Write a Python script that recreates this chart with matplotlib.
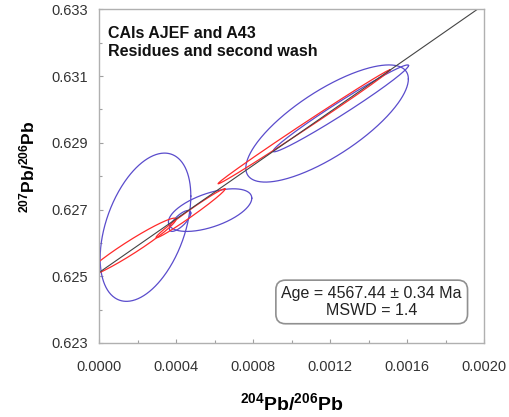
import numpy as np
import matplotlib
matplotlib.use("Agg")
import matplotlib.pyplot as plt
from matplotlib.ticker import FixedLocator, FormatStrFormatter

plt.rcParams['font.family'] = ['Liberation Sans', 'DejaVu Sans']
plt.rcParams['mathtext.fontset'] = 'custom'
plt.rcParams['mathtext.rm'] = 'Liberation Sans'
plt.rcParams['mathtext.bf'] = 'Liberation Sans:bold'

# error ellipses: centre, 2-sigma half extents, correlation
blue_cx = [0.0002394, 0.0004195, 0.0005755, 0.0011840, 0.0012553]
blue_cy = [0.626470, 0.626659, 0.626983, 0.629579, 0.630033]
blue_sx = [0.0002358, 0.0000556, 0.0002168, 0.0004227, 0.0003522]
blue_sy = [0.002222, 0.000314, 0.000639, 0.001756, 0.001302]
blue_rho = [0.42, 0.75, 0.56, 0.76, 0.985]

red_cx = [0.0001622, 0.0004740, 0.0010640]
red_cy = [0.625860, 0.626889, 0.629479]
red_sx = [0.0002366, 0.0001794, 0.0004470]
red_sy = [0.000883, 0.000734, 0.001707]
red_rho = [0.964, 0.987, 0.998]

# isochron
line_x = [0.0, 0.0020]
line_y = [0.62512, 0.63314]

x_major = [0.0, 0.0004, 0.0008, 0.0012, 0.0016, 0.0020]
x_minor = [0.0002, 0.0006, 0.0010, 0.0014, 0.0018]
y_major = [0.623, 0.625, 0.627, 0.629, 0.631, 0.633]
y_minor = [0.624, 0.626, 0.628, 0.630, 0.632]


def ellipse(cx, cy, sx, sy, rho):
    t = np.linspace(0, 2 * np.pi, 400)
    x = cx + sx * np.cos(t)
    y = cy + sy * (rho * np.cos(t) + np.sqrt(1 - rho ** 2) * np.sin(t))
    return x, y


fig = plt.figure(figsize=(5.1, 4.17), dpi=100)
ax = fig.add_axes([0.195, 0.1775, 0.754, 0.8])

for i in range(len(blue_cx)):
    ex, ey = ellipse(blue_cx[i], blue_cy[i], blue_sx[i], blue_sy[i], blue_rho[i])
    ax.plot(ex, ey, color='#5a4ccc', lw=0.9)

for i in range(len(red_cx)):
    ex, ey = ellipse(red_cx[i], red_cy[i], red_sx[i], red_sy[i], red_rho[i])
    ax.plot(ex, ey, color='#ff2a2a', lw=0.9)

ax.plot(line_x, line_y, color='#444444', lw=0.8)

ax.set_xlim(0, 0.002)
ax.set_ylim(0.623, 0.633)
ax.xaxis.set_major_locator(FixedLocator(x_major))
ax.xaxis.set_minor_locator(FixedLocator(x_minor))
ax.yaxis.set_major_locator(FixedLocator(y_major))
ax.yaxis.set_minor_locator(FixedLocator(y_minor))
ax.xaxis.set_major_formatter(FormatStrFormatter('%.4f'))
ax.yaxis.set_major_formatter(FormatStrFormatter('%.3f'))

for s in ax.spines.values():
    s.set_color('#b0b0b0')
    s.set_linewidth(1.0)
ax.tick_params(which='both', direction='in', color='#a0a0a0', labelsize=10.5,
               labelcolor='#333333', width=0.8)
ax.tick_params(which='major', length=3)
ax.tick_params(which='minor', length=2.5)
ax.tick_params(axis='x', which='major', pad=12)
ax.tick_params(axis='y', which='major', pad=8)

ax.set_xlabel(r'$\mathbf{^{204}Pb/^{206}Pb}$', fontsize=14)
ax.set_ylabel(r'$\mathbf{^{207}Pb/^{206}Pb}$', fontsize=12.5)
ax.xaxis.set_label_coords(0.5, -0.148)
ax.yaxis.set_label_coords(-0.162, 0.528)

ax.text(0.022, 0.95, 'CAIs AJEF and A43\nResidues and second wash',
        transform=ax.transAxes, fontsize=11.5, fontweight='bold',
        va='top', ha='left', linespacing=1.25, color='#111111')

ax.text(0.708, 0.123, 'Age = 4567.44 \u00b1 0.34 Ma\nMSWD = 1.4',
        transform=ax.transAxes, fontsize=11.5, ha='center', va='center',
        linespacing=1.2, color='#222222',
        bbox=dict(boxstyle='round,pad=0.35,rounding_size=0.6', fc='white',
                  ec='#909090', lw=1.2))

fig.savefig('out.png', dpi=100)
